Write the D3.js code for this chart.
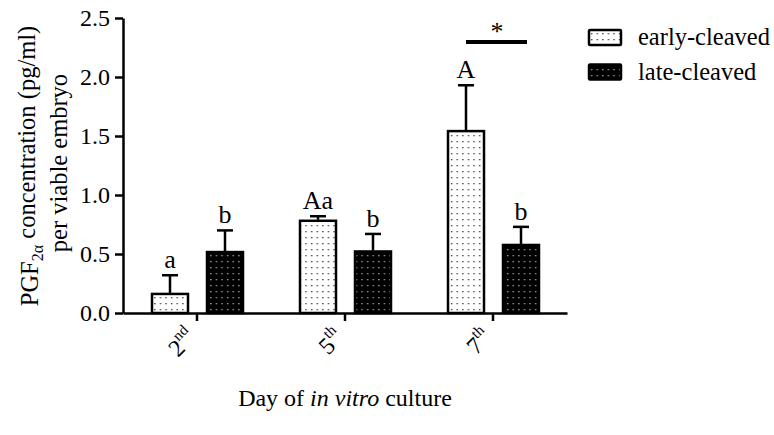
<!DOCTYPE html>
<html><head><meta charset="utf-8">
<script src="https://cdn.jsdelivr.net/npm/d3@7"></script>
<style>
html,body{margin:0;padding:0;background:#fff;}
text{font-family:"Liberation Serif","Times New Roman",serif;fill:#000;}
</style></head>
<body><svg id="c" width="774" height="435"></svg>
<script>
const categories = ["2", "5", "7"];
const catSuffix = ["nd", "th", "th"];
const seriesNames = ["early-cleaved", "late-cleaved"];
const earlyValues = [0.17, 0.79, 1.55];
const earlyErrors = [0.15, 0.03, 0.38];
const lateValues = [0.525, 0.53, 0.585];
const lateErrors = [0.175, 0.14, 0.145];
const earlyLetters = ["a", "Aa", "A"];
const lateLetters = ["b", "b", "b"];
const yTicks = [0.0, 0.5, 1.0, 1.5, 2.0, 2.5];

const SERIF = '"Liberation Serif","Times New Roman",serif';
const svg = d3.select("#c");
const defs = svg.append("defs");
function pat(id, bg, dot) {
  const p = defs.append("pattern").attr("id", id).attr("patternUnits", "userSpaceOnUse")
    .attr("width", 5.6).attr("height", 6).attr("x", 1).attr("y", 1);
  p.append("rect").attr("width", 5.6).attr("height", 6).attr("fill", bg);
  p.append("rect").attr("x", 2).attr("y", 2).attr("width", 1.3).attr("height", 1.3).attr("fill", dot);
}
pat("pEarly", "#fff", "#333");
pat("pLate", "#000", "#aaa");

const x = d3.scaleBand().domain(categories).range([123, 567]).padding(0);
const x1 = d3.scaleBand().domain(seriesNames).range([28, 121]).paddingInner(0.309).paddingOuter(0);
const y = d3.scaleLinear().domain([0, 2.5]).range([313, 18]);

const data = [];
categories.forEach((c, i) => {
  data.push({cat: c, s: seriesNames[0], v: earlyValues[i], e: earlyErrors[i], l: earlyLetters[i], fill: "url(#pEarly)"});
  data.push({cat: c, s: seriesNames[1], v: lateValues[i], e: lateErrors[i], l: lateLetters[i], fill: "url(#pLate)"});
});

// error bars (drawn first, bars cover lower part)
const eg = svg.append("g");
data.forEach(d => {
  const cx = x(d.cat) + x1(d.s) + x1.bandwidth() / 2;
  eg.append("line").attr("x1", cx).attr("x2", cx).attr("y1", y(d.v)).attr("y2", y(d.v + d.e))
    .attr("stroke", "#000").attr("stroke-width", 2.5);
  eg.append("line").attr("x1", cx - 8).attr("x2", cx + 8).attr("y1", y(d.v + d.e)).attr("y2", y(d.v + d.e))
    .attr("stroke", "#000").attr("stroke-width", 2.5);
  svg.append("text").attr("x", cx).attr("y", y(d.v + d.e) - 7).attr("text-anchor", "middle")
    .attr("font-size", 26).text(d.l);
});

svg.append("g").selectAll("rect").data(data).join("rect")
  .attr("x", d => x(d.cat) + x1(d.s) + 1)
  .attr("width", x1.bandwidth() - 2)
  .attr("y", d => y(d.v) + 1)
  .attr("height", d => y(0) - y(d.v) - 1)
  .attr("fill", d => d.fill)
  .attr("stroke", "#000").attr("stroke-width", 2.5);

// axes
const ya = svg.append("g").attr("transform", "translate(123,0)")
  .call(d3.axisLeft(y).tickValues(yTicks).tickFormat(d3.format(".1f")).tickSize(8).tickSizeOuter(0));
ya.attr("font-family", null);
ya.select(".domain").attr("stroke-width", 2.5);
ya.selectAll(".tick line").attr("stroke-width", 2.5);
ya.selectAll(".tick text").attr("font-size", 24).style("font-family", SERIF).attr("dx", -2).attr("dy", "0.33em");

const xa = svg.append("g").attr("transform", "translate(0,313)")
  .call(d3.axisBottom(x).tickSize(8).tickSizeOuter(0).tickFormat(""));
xa.attr("font-family", null);
xa.select(".domain").attr("stroke-width", 2.5);
xa.selectAll(".tick line").attr("stroke-width", 2.5);
xa.selectAll(".tick").each(function(c, i) {
  const t = d3.select(this).append("text")
    .attr("transform", "translate(0,26) rotate(-45)")
    .attr("text-anchor", "end").attr("font-size", 24).attr("fill", "#000")
    .style("font-family", SERIF);
  t.append("tspan").text(c);
  t.append("tspan").attr("font-size", 15).attr("dy", "-0.75em").text(catSuffix[i]);
});

// y title
const yt = svg.append("text").attr("transform", "translate(38,166) rotate(-90)")
  .attr("text-anchor", "middle").attr("font-size", 24.5);
yt.append("tspan").text("PGF");
yt.append("tspan").attr("font-size", 16).attr("dy", "0.3em").text("2α");
yt.append("tspan").attr("dy", "-0.3em").text(" concentration (pg/ml)");
svg.append("text").attr("transform", "translate(67,163) rotate(-90)")
  .attr("text-anchor", "middle").attr("font-size", 24.5).text("per viable embryo");

// x title
const xt = svg.append("text").attr("x", 345).attr("y", 406).attr("text-anchor", "middle").attr("font-size", 24);
xt.append("tspan").text("Day of ");
xt.append("tspan").attr("font-style", "italic").text("in vitro");
xt.append("tspan").text(" culture");

// significance
const c7 = x("7") + x.bandwidth() / 2;
svg.append("line").attr("x1", c7 - 27).attr("x2", c7 + 34).attr("y1", 42).attr("y2", 42)
  .attr("stroke", "#000").attr("stroke-width", 4);
svg.append("text").attr("x", c7 + 4).attr("y", 40).attr("text-anchor", "middle").attr("font-size", 26).text("*");

// legend
const lg = svg.append("g");
seriesNames.forEach((s, i) => {
  const yy = 30 + i * 34.5;
  lg.append("rect").attr("x", 589).attr("y", yy).attr("width", 32).attr("height", 15)
    .attr("fill", i === 0 ? "url(#pEarly)" : "url(#pLate)").attr("stroke", "#000").attr("stroke-width", 2.5).attr("rx", 1);
  lg.append("text").attr("x", 638).attr("y", yy + 15).attr("font-size", 24.5).text(s);
});
</script></body></html>
